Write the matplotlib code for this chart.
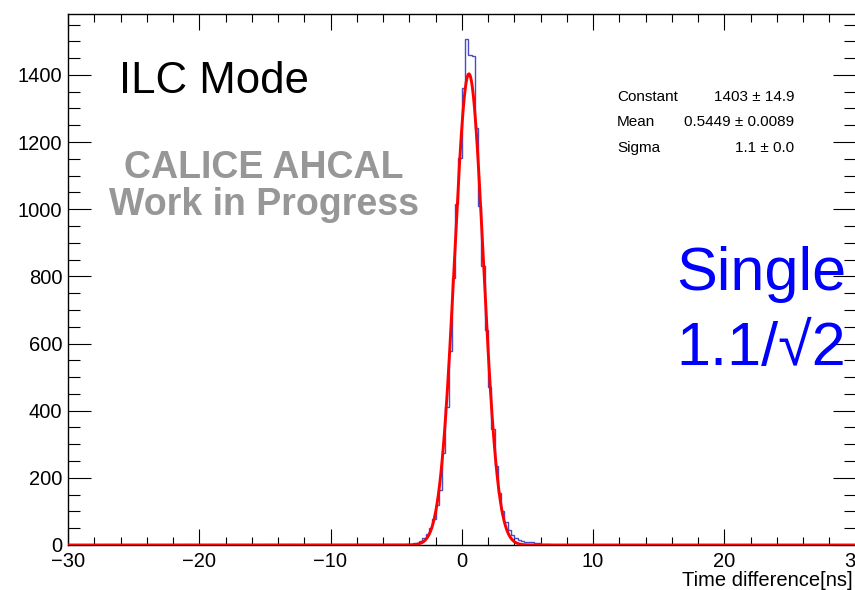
import numpy as np
import matplotlib
matplotlib.use("Agg")
import matplotlib.pyplot as plt
from matplotlib.ticker import MultipleLocator

# ---- data ----
x_min, x_max = -30.0, 30.0
bin_width = 0.25
first_nonzero_edge = -4.5
counts_nonzero = [1, 2, 3, 5, 7, 12, 20, 33, 50, 78, 118, 165, 275, 410, 579, 796,
                  1014, 1152, 1360, 1506, 1459, 1455, 1241, 1010, 830, 640, 470, 345,
                  235, 155, 100, 68, 45, 30, 20, 15, 12, 10, 9, 8, 6, 6, 4, 3, 2, 1]
fit_constant = 1403.0
fit_mean = 0.5449
fit_sigma = 1.1
stat_names = ["Constant", "Mean", "Sigma"]
stat_values = ["1403 \u00b1 14.9", "0.5449 \u00b1 0.0089", "1.1 \u00b1 0.0"]
x_ticks = [-30, -20, -10, 0, 10, 20, 30]
y_ticks = [0, 200, 400, 600, 800, 1000, 1200, 1400]

plt.rcParams['font.family'] = ['Liberation Sans', 'DejaVu Sans']

edges = np.arange(x_min, x_max + bin_width / 2, bin_width)
counts = np.zeros(len(edges) - 1)
i0 = int(round((first_nonzero_edge - x_min) / bin_width))
counts[i0:i0 + len(counts_nonzero)] = counts_nonzero

W, H = 855, 590
fig = plt.figure(figsize=(W / 100, H / 100), dpi=100)
ax = fig.add_axes([68 / W, 1 - 545 / H, (855.5 - 68) / W, (545 - 14) / H])

ax.stairs(counts, edges, color='#4a4ac4', linewidth=1.0, zorder=3)
xf = np.linspace(x_min, x_max, 3000)
yf = fit_constant * np.exp(-0.5 * ((xf - fit_mean) / fit_sigma) ** 2)
ax.plot(xf, yf, color='#ff0000', linewidth=2.1, zorder=4)

ax.set_xlim(x_min, x_max)
ax.set_ylim(0, 1.05 * max(counts_nonzero))
ax.set_xticks(x_ticks)
ax.set_yticks(y_ticks)
ax.set_xticklabels([str(t).replace('-', '\u2212') for t in x_ticks])
ax.xaxis.set_minor_locator(MultipleLocator(2))
ax.yaxis.set_minor_locator(MultipleLocator(50))
ax.tick_params(axis='both', which='both', direction='in', top=True, right=True,
               width=0.8, labelsize=14.5, colors='black')
ax.tick_params(axis='x', which='major', length=11.5, pad=5)
ax.tick_params(axis='x', which='minor', length=5.8)
ax.tick_params(axis='y', which='major', length=16.5, pad=4)
ax.tick_params(axis='y', which='minor', length=8.3)
for s in ax.spines.values():
    s.set_linewidth(1.0)

# annotations (pixel coordinates -> figure fraction)
def fx(px):
    return px / W

def fy(py):
    return 1 - py / H

fig.text(fx(853), fy(580), "Time difference[ns]", fontsize=14.5, va='center', ha='right')

fig.text(fx(119), fy(93), "ILC Mode", fontsize=31.5, color='black', va='baseline', ha='left')
fig.text(fx(264), fy(178), "CALICE AHCAL", fontsize=27, fontweight='bold',
         color='#979797', va='baseline', ha='center')
fig.text(fx(264), fy(215), "Work in Progress", fontsize=27, fontweight='bold',
         color='#979797', va='baseline', ha='center')

for k, (n, v) in enumerate(zip(stat_names, stat_values)):
    yy = fy(101 + 25.5 * k)
    fig.text(fx(617), yy, n, fontsize=11, va='baseline', ha='left')
    fig.text(fx(794), yy, v, fontsize=11, va='baseline', ha='right')

fig.text(fx(676), fy(290), "Single", fontsize=44, color='#0000ff', va='baseline', ha='left')
fig.text(fx(676), fy(365), "1.1/\u221a2", fontsize=44, color='#0000ff', va='baseline', ha='left')

fig.savefig("out.png", dpi=100)
